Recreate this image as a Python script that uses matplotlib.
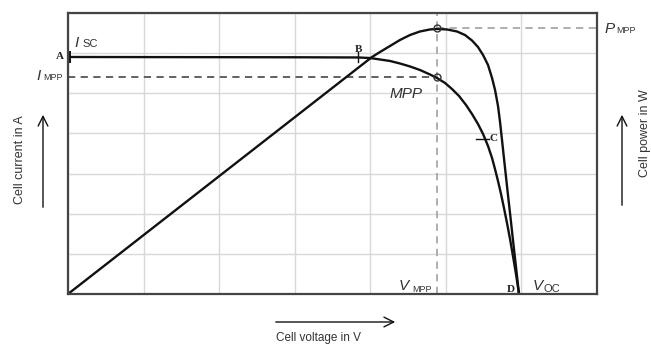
import numpy as np
import matplotlib
matplotlib.use('Agg')
from matplotlib import pyplot as plt

# values (grid units, 7 x 7 cells)
v_current = [0, 3.070, 3.837, 3.996, 4.129, 4.261, 4.393, 4.526, 4.658, 4.790,
             4.883, 4.989, 5.081, 5.174, 5.267, 5.346, 5.425, 5.492, 5.558,
             5.611, 5.650, 5.690, 5.730, 5.769, 5.809, 5.849, 5.888, 5.928, 5.968]
i_current = [5.904, 5.897, 5.892, 5.879, 5.842, 5.805, 5.742, 5.668, 5.580,
             5.468, 5.381, 5.257, 5.107, 4.933, 4.708, 4.484, 4.235, 3.986,
             3.687, 3.388, 3.114, 2.815, 2.491, 2.142, 1.769, 1.370, 0.947, 0.498, 0]
v_power = [0, 4.023, 4.129, 4.261, 4.393, 4.526, 4.658, 4.790, 4.883, 5.015,
           5.147, 5.253, 5.346, 5.425, 5.492, 5.558, 5.611, 5.651, 5.690,
           5.717, 5.743, 5.770, 5.796, 5.822, 5.849, 5.888, 5.928, 5.968]
p_power = [0, 5.904, 6.029, 6.178, 6.328, 6.452, 6.540, 6.590, 6.602, 6.590,
           6.540, 6.452, 6.315, 6.153, 5.954, 5.705, 5.381, 5.082, 4.684,
           4.285, 3.837, 3.363, 2.915, 2.466, 2.018, 1.345, 0.673, 0]

isc = 5.904
voc = 5.968
v_mpp = 4.88
i_mpp = 5.40
p_mpp = 6.62
v_b = 3.84
v_c, i_c = 5.52, 3.87

W, H = 651, 346
fig = plt.figure(figsize=(W / 100, H / 100), dpi=100)
ax = fig.add_axes([68 / W, 1 - 294 / H, (597 - 68) / W, (294 - 13) / H])
ax.set_xlim(0, 7)
ax.set_ylim(0, 7)
ax.set_xticks(range(8))
ax.set_yticks(range(8))
ax.tick_params(length=0, labelbottom=False, labelleft=False)
ax.grid(True, color='#d8d8d8', lw=1.0)
for s in ax.spines.values():
    s.set_color('#444444')
    s.set_linewidth(1.6)

dash_c = '#a8a8a8'
ax.plot([0, v_mpp], [i_mpp, i_mpp], color='#555555', lw=1.3, ls=(0, (4, 3)))
ax.plot([v_mpp, 7], [p_mpp, p_mpp], color=dash_c, lw=1.3, ls=(0, (4, 3)))
ax.plot([v_mpp, v_mpp], [0, 7], color=dash_c, lw=1.3, ls=(0, (4, 3)))

ax.plot(v_current, i_current, color='#111111', lw=1.7, solid_joinstyle='round')
ax.plot(v_power, p_power, color='#111111', lw=1.7, solid_joinstyle='round')
ax.plot([v_mpp, v_mpp], [i_mpp, p_mpp], ls='none', marker='o', ms=5,
        mfc='none', mec='#333333', mew=1.0)

# small tick marks at A, B, C
ax.plot([0.02, 0.02], [isc - 0.12, isc + 0.12], color='#111111', lw=1.4, clip_on=False)
ax.plot([v_b, v_b], [isc - 0.12, isc + 0.12], color='#111111', lw=1.0)
ax.plot([v_c - 0.12, v_c + 0.05], [i_c, i_c], color='#111111', lw=1.0)

serif = dict(family='Liberation Serif', fontweight='bold', fontsize=8, color='#222222')
sans = dict(family='Liberation Sans', color='#333333')

ax.text(-0.05, isc, 'A', ha='right', va='center', clip_on=False, **serif)
ax.text(v_b, 6.03, 'B', ha='center', va='baseline', **serif)
ax.text(5.58, i_c, 'C', ha='left', va='center', **serif)
ax.text(5.91, 0.06, 'D', ha='right', va='baseline', **serif)

ax.text(0.08, 6.15, 'I', style='italic', fontsize=11, va='baseline', **sans)
ax.text(0.19, 6.15, 'SC', fontsize=8, va='baseline', **sans)
ax.text(-0.42, 5.33, 'I', style='italic', fontsize=11, va='baseline', clip_on=False, **sans)
ax.text(-0.33, 5.33, 'MPP', fontsize=6.5, va='baseline', clip_on=False, **sans)
ax.text(4.26, 4.88, 'MPP', style='italic', fontsize=11, va='baseline', **sans)
ax.text(7.1, 6.5, 'P', style='italic', fontsize=11, va='baseline', clip_on=False, **sans)
ax.text(7.26, 6.5, 'MPP', fontsize=6.5, va='baseline', clip_on=False, **sans)
ax.text(4.37, 0.1, 'V', style='italic', fontsize=11, va='baseline', **sans)
ax.text(4.55, 0.05, 'MPP', fontsize=6.5, va='baseline', **sans)
ax.text(6.15, 0.1, 'V', style='italic', fontsize=11, va='baseline', **sans)
ax.text(6.29, 0.05, 'OC', fontsize=8, va='baseline', **sans)

# axis captions with arrows (figure pixels, top-left origin)
def fp(x, y):
    return (x, H - y)

fig.text(20 / W, 1 - 160 / H, 'Cell current in A', rotation=90, ha='center',
         va='center', fontsize=9, **sans)
fig.text(645 / W, 1 - 177 / H, 'Cell power in W', rotation=90, ha='center',
         va='bottom', fontsize=9, **sans)
fig.text(318 / W, 2 / H, 'Cell voltage in V', ha='center', va='bottom',
         fontsize=8.5, **sans)
arr = dict(arrowstyle='->,head_length=0.7,head_width=0.35', color='#111111', lw=1.0)
ax.annotate('', xy=fp(43, 112), xytext=fp(43, 210), xycoords='figure pixels',
            textcoords='figure pixels', arrowprops=arr)
ax.annotate('', xy=fp(622, 112), xytext=fp(622, 208), xycoords='figure pixels',
            textcoords='figure pixels', arrowprops=arr)
ax.annotate('', xy=fp(398, 322), xytext=fp(273, 322), xycoords='figure pixels',
            textcoords='figure pixels', arrowprops=arr)

fig.savefig('out.png', dpi=100)
